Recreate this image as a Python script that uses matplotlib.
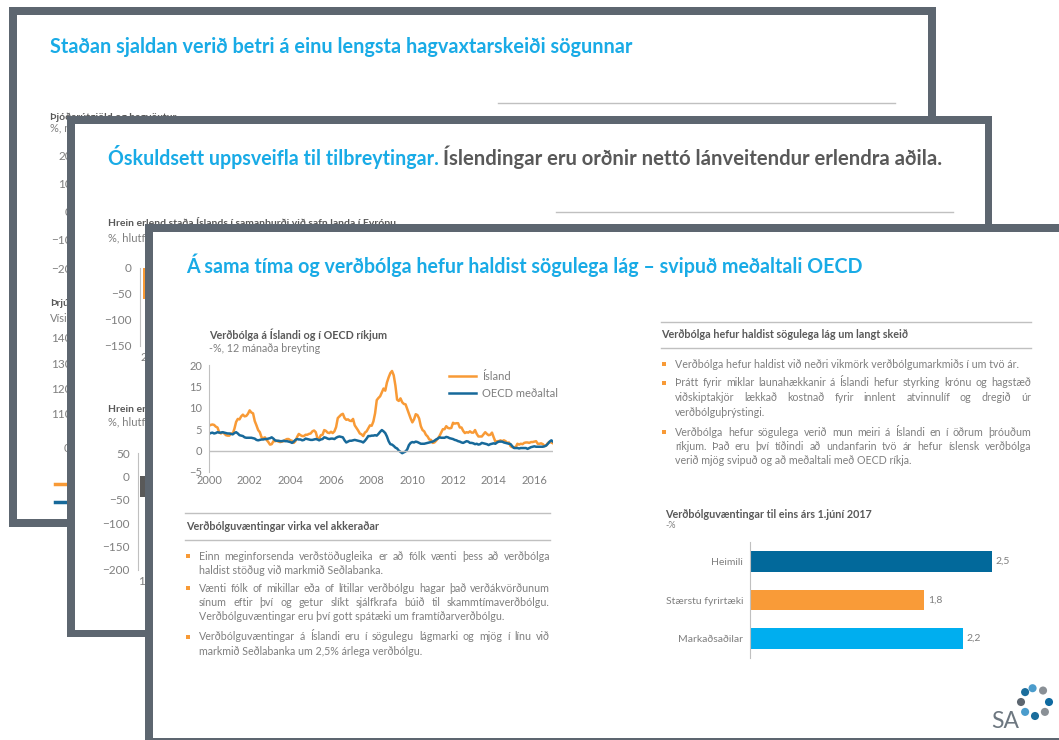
import matplotlib
matplotlib.use("Agg")
import matplotlib.pyplot as plt
from matplotlib.patches import Rectangle
import numpy as np

# ---- data ----
# Icelandic CPI, 12 month change, monthly Jan 2000 - Dec 2016
island = [5.8, 6.0, 6.1, 6.0, 5.6, 5.4, 4.3, 4.0, 4.3, 4.0, 3.6, 3.5,
          3.5, 4.0, 3.9, 5.1, 6.7, 7.4, 7.3, 8.0, 8.4, 8.0, 8.1, 8.6,
          9.4, 8.9, 8.7, 6.9, 5.9, 4.8, 4.3, 3.1, 2.9, 3.1, 2.5, 2.0,
          1.4, 1.5, 2.2, 2.2, 2.3, 2.1, 2.0, 2.1, 2.2, 2.5, 2.7, 2.7,
          2.4, 2.3, 1.8, 2.2, 3.2, 3.9, 3.6, 3.4, 3.4, 3.7, 3.7, 3.9,
          4.0, 4.5, 4.7, 4.3, 2.9, 2.8, 3.6, 3.7, 4.8, 4.6, 4.2, 4.1,
          4.4, 4.1, 4.5, 5.5, 7.6, 8.0, 8.4, 8.6, 7.6, 7.2, 7.3, 7.0,
          6.9, 7.4, 5.9, 5.3, 4.7, 4.0, 3.8, 3.4, 4.2, 4.5, 5.2, 5.9,
          5.8, 6.8, 8.7, 11.8, 12.3, 12.7, 13.6, 14.5, 14.0, 15.9, 17.1, 18.1,
          18.6, 17.6, 15.2, 11.9, 11.6, 12.2, 11.3, 10.9, 10.8, 9.7, 8.6, 7.5,
          6.6, 7.3, 8.5, 8.3, 7.5, 5.7, 4.8, 4.5, 3.7, 3.3, 2.6, 2.5,
          1.8, 1.9, 2.3, 2.8, 3.4, 4.2, 5.0, 5.0, 5.7, 5.3, 5.2, 5.3,
          6.5, 6.3, 6.4, 6.4, 5.4, 5.4, 4.6, 4.1, 4.3, 4.2, 4.5, 4.2,
          4.2, 4.8, 3.9, 3.3, 3.3, 3.3, 3.8, 4.3, 3.9, 3.6, 3.7, 4.2,
          3.1, 2.1, 2.2, 2.2, 2.4, 2.2, 2.4, 2.2, 1.8, 1.9, 1.0, 0.8,
          0.8, 0.8, 1.6, 1.4, 1.6, 1.5, 1.8, 1.9, 1.9, 1.8, 2.0, 2.0,
          2.1, 2.2, 1.6, 1.6, 1.7, 1.5, 1.1, 1.2, 1.8, 2.0, 1.9, 1.7]
oecd = [3.9, 4.1, 4.2, 4.0, 4.1, 4.3, 4.2, 4.2, 4.3, 4.2, 4.1, 4.0,
        4.0, 3.9, 3.8, 4.1, 4.3, 4.0, 3.6, 3.5, 3.4, 3.1, 3.0, 3.0,
        3.0, 3.0, 2.9, 2.8, 2.5, 2.4, 2.5, 2.6, 2.6, 2.7, 2.7, 2.8,
        2.9, 3.1, 2.8, 2.4, 2.3, 2.3, 2.2, 2.2, 2.3, 2.2, 2.2, 2.1,
        2.0, 1.8, 2.1, 2.5, 2.7, 2.6, 2.6, 2.4, 2.5, 2.8, 2.7, 2.6,
        2.5, 2.5, 2.6, 2.7, 2.6, 2.4, 2.6, 2.7, 3.1, 3.0, 2.8, 2.7,
        2.8, 2.8, 2.7, 3.0, 3.2, 3.3, 3.2, 3.1, 2.4, 1.9, 2.1, 2.3,
        2.3, 2.4, 2.5, 2.4, 2.3, 2.2, 2.1, 1.9, 2.3, 2.8, 3.4, 3.4,
        3.5, 3.5, 3.6, 3.5, 3.9, 4.4, 4.8, 4.5, 4.1, 3.3, 2.2, 1.5,
        1.4, 1.1, 0.7, 0.5, 0.0, -0.3, -0.6, -0.4, -0.2, 0.3, 1.3, 1.8,
        2.0, 1.9, 2.1, 2.0, 1.8, 1.6, 1.6, 1.6, 1.7, 1.8, 1.9, 2.0,
        2.1, 2.3, 2.6, 2.8, 3.1, 3.0, 3.0, 3.0, 3.2, 3.1, 2.9, 2.8,
        2.7, 2.5, 2.4, 2.2, 2.1, 1.9, 1.8, 2.0, 2.2, 2.1, 1.8, 1.8,
        1.7, 1.5, 1.6, 1.4, 1.5, 1.8, 1.7, 1.6, 1.5, 1.3, 1.5, 1.6,
        1.7, 1.6, 1.9, 2.1, 2.1, 2.1, 1.9, 1.8, 1.7, 1.6, 1.5, 1.0,
        0.6, 0.6, 0.6, 0.5, 0.6, 0.6, 0.6, 0.6, 0.4, 0.6, 0.8, 0.9,
        1.0, 0.9, 0.9, 0.9, 0.9, 0.9, 1.0, 1.2, 1.6, 2.1, 2.4, 2.1]
year_ticks = [2000, 2002, 2004, 2006, 2008, 2010, 2012, 2014, 2016]
line_names = ["Ísland", "OECD meðaltal"]

exp_cats = ["Heimili", "Stærstu fyrirtæki", "Markaðsaðilar"]
exp_vals = [2.5, 1.8, 2.2]

# visible pieces of the two slides behind
nfa_years = ["2016"]
nfa_vals = [-60]
nfa2_years = ["1990"]
nfa2_vals = [-45]

left_bullets = [
    ["Einn meginforsenda verðstöðugleika er að fólk vænti þess að verðbólga",
     "haldist stöðug við markmið Seðlabanka."],
    ["Vænti fólk of mikillar eða of lítillar verðbólgu hagar það verðákvörðunum",
     "sínum eftir því og getur slíkt sjálfkrafa búið til skammtímaverðbólgu.",
     "Verðbólguvæntingar eru því gott spátæki um framtíðarverðbólgu."],
    ["Verðbólguvæntingar á Íslandi eru í sögulegu lágmarki og mjög í línu við",
     "markmið Seðlabanka um 2,5% árlega verðbólgu."],
]
right_bullets = [
    ["Verðbólga hefur haldist við neðri vikmörk verðbólgumarkmiðs í um tvö ár."],
    ["Þrátt fyrir miklar launahækkanir á Íslandi hefur styrking krónu og hagstæð",
     "viðskiptakjör lækkað kostnað fyrir innlent atvinnulíf og dregið úr",
     "verðbólguþrýstingi."],
    ["Verðbólga hefur sögulega verið mun meiri á Íslandi en í öðrum þróuðum",
     "ríkjum. Það eru því tíðindi að undanfarin tvö ár hefur íslensk verðbólga",
     "verið mjög svipuð og að meðaltali með OECD ríkja."],
]

# ---- style ----
FRAME = "#5d6670"
CYAN = "#19abe6"
ORANGE = "#f89a36"
BLUE = "#17699a"
GREY = "#595959"
TXT = "#7f7f7f"
RULE = "#c0c0c0"
bar_colors = ["#02699b", "#f99b38", "#00aeef"]

W, H = 1059, 740
plt.rcParams['font.family'] = ['Lato', 'DejaVu Sans']

fig = plt.figure(figsize=(W / 100, H / 100), dpi=100)
R = fig.canvas.get_renderer()


def layer(z):
    ax = fig.add_axes([0, 0, 1, 1])
    ax.set_xlim(0, W)
    ax.set_ylim(H, 0)
    ax.axis('off')
    ax.set_zorder(z)
    return ax


def px_axes(x0, y0, x1, y1, z):
    ax = fig.add_axes([x0 / W, 1 - y1 / H, (x1 - x0) / W, (y1 - y0) / H])
    ax.set_zorder(z)
    ax.patch.set_visible(False)
    return ax


def slide(ax, x0, y0, x1, y1, b=7.5):
    ax.add_patch(Rectangle((x0, y0), x1 - x0, y1 - y0, fc=FRAME, ec='none'))
    ax.add_patch(Rectangle((x0 + b, y0 + b), x1 - x0 - 2 * b, y1 - y0 - 2 * b,
                           fc='white', ec='none'))


def fit(t, width):
    w = t.get_window_extent(R).width
    t.set_fontsize(t.get_fontsize() * width / w)
    return t.get_fontsize()


def rule(ax, x0, x1, y):
    ax.plot([x0, x1], [y, y], color=RULE, lw=1)


def para(ax, lines, x0, x1, y0, dy, size):
    for i, line in enumerate(lines):
        y = y0 + i * dy
        if i == len(lines) - 1:
            ax.text(x0, y, line, fontsize=size, color=TXT, va='center')
            continue
        words = line.split()
        ts = [ax.text(x0, y, w, fontsize=size, color=TXT, va='center') for w in words]
        ws = [t.get_window_extent(R).width for t in ts]
        gap = (x1 - x0 - sum(ws)) / (len(words) - 1)
        x = x0
        for t, w in zip(ts, ws):
            t.set_x(x)
            x += w + gap


def tick_style(ax, size, spine=True):
    for s in ax.spines.values():
        s.set_visible(False)
    if spine:
        ax.spines['left'].set_visible(True)
        ax.spines['left'].set_color(RULE)
    ax.tick_params(length=0, labelsize=size, labelcolor=TXT)


# ================= slide 1 (back) =================
a1 = layer(1)
slide(a1, 9, 7, 936, 527, b=8)
t = a1.text(50, 47, "Staðan sjaldan verið betri á einu lengsta hagvaxtarskeiði sögunnar",
            color=CYAN, fontweight='bold', fontsize=13, va='center')
fit(t, 581)
rule(a1, 498, 895, 103)
hsize = 7.5
a1.text(50, 117, "Þjóðarútgjöld og hagvöxtur", color=GREY, fontweight='bold',
        fontsize=hsize, va='center')
a1.text(50, 129, "%, magnbreyting", color=TXT, fontsize=8, va='center')
a1.text(50, 304, "Þrjú", color=GREY, fontweight='bold', fontsize=hsize, va='center')
a1.text(50, 319, "Vísitala", color=TXT, fontsize=8, va='center')
a1.text(71, 449, "0", color=TXT, fontsize=8.5, va='center', ha='right')
a1.plot([55, 90], [484, 484], color=ORANGE, lw=2.5)
a1.plot([55, 90], [502, 502], color=BLUE, lw=2.5)

c1 = px_axes(76, 155, 400, 268, 1.5)
c1.set_ylim(-20, 20)
c1.set_yticks([-20, -10, 0, 10, 20])
c1.set_xticks([])
tick_style(c1, 8.5, spine=False)
c1.tick_params(axis='y', pad=3)

c2 = px_axes(76, 338, 400, 414, 1.5)
c2.set_ylim(110, 140)
c2.set_yticks([110, 120, 130, 140])
c2.set_xticks([])
tick_style(c2, 8.5, spine=False)
c2.tick_params(axis='y', pad=3)

# ================= slide 2 (middle) =================
a2 = layer(2)
slide(a2, 67, 116, 992, 637)
t1 = a2.text(108, 157, "Óskuldsett uppsveifla til tilbreytingar.", color=CYAN,
             fontweight='bold', fontsize=13, va='center')
fit(t1, 329)
t2 = a2.text(108 + 329 + 6, 157, "Íslendingar eru orðnir nettó lánveitendur erlendra aðila.",
             color=GREY, fontweight='bold', fontsize=13, va='center')
fit(t2, 497)
rule(a2, 556, 953, 212)
a2.text(108, 223, "Hrein erlend staða Íslands í samanburði við safn landa í Evrópu",
        color=GREY, fontweight='bold', fontsize=hsize, va='center')
a2.text(108, 238, "%, hlutfall af VLF", color=TXT, fontsize=8, va='center')
a2.text(108, 410, "Hrein erlend", color=GREY, fontweight='bold',
        fontsize=hsize, va='center')
a2.text(108, 422, "%, hlutfall", color=TXT, fontsize=8, va='center')

c3 = px_axes(140, 268, 420, 346, 2.5)
c3.bar(range(len(nfa_vals)), nfa_vals, width=0.79, color=ORANGE)
c3.set_xlim(-0.5, 9.5)
c3.set_ylim(-150, 0)
c3.set_yticks([0, -50, -100, -150])
c3.set_xticks(range(len(nfa_years)), nfa_years)
tick_style(c3, 8.5)
c3.tick_params(axis='y', pad=6)
c3.tick_params(axis='x', pad=4)

c4 = px_axes(138, 453, 420, 570, 2.5)
c4.bar(range(len(nfa2_vals)), nfa2_vals, width=0.86, color=GREY)
c4.set_xlim(-0.5, 9.5)
c4.set_ylim(-200, 50)
c4.set_yticks([50, 0, -50, -100, -150, -200])
c4.set_xticks(range(len(nfa2_years)), nfa2_years)
tick_style(c4, 8.5)
c4.tick_params(axis='y', pad=6)
c4.tick_params(axis='x', pad=4)

# ================= slide 3 (front) =================
a3 = layer(3)
slide(a3, 145, 224, 1070, 745)
t = a3.text(186, 265, "Á sama tíma og verðbólga hefur haldist sögulega lág – svipuð meðaltali OECD",
            color=CYAN, fontweight='bold', fontsize=13, va='center')
fit(t, 676)

# right column header, sets the header font size
rule(a3, 661, 1031, 322)
t = a3.text(661, 335, "Verðbólga hefur haldist sögulega lág um langt skeið", color=GREY,
            fontweight='bold', fontsize=8, va='center')
hsize = fit(t, 246)
rule(a3, 661, 1031, 348)

# body font size from the single-line bullet
probe = a3.text(0, -50, right_bullets[0][0], fontsize=8)
bsize = fit(probe, 344)
probe.remove()

ys = [364, 383, 432]
for lines, y in zip(right_bullets, ys):
    a3.plot(664, y, 's', ms=2.3, color=ORANGE, mew=0)
    para(a3, lines, 675, 1031, y, 14.5, bsize)

# chart title, line chart
a3.text(209, 335, "Verðbólga á Íslandi og í OECD ríkjum", color=GREY,
        fontweight='bold', fontsize=hsize, va='center')
a3.text(209, 349, "-%, 12 mánaða breyting", color=TXT, fontsize=bsize, va='center')

# left column text
rule(a3, 185, 550, 513)
a3.text(186, 526, "Verðbólguvæntingar virka vel akkeraðar", color=GREY,
        fontweight='bold', fontsize=hsize, va='center')
rule(a3, 185, 550, 540)
ys = [556, 588, 637]
for lines, y in zip(left_bullets, ys):
    a3.plot(188, y, 's', ms=2.3, color=ORANGE, mew=0)
    para(a3, lines, 199, 550, y, 14.5, bsize)

# bar chart title
a3.text(665, 515, "Verðbólguvæntingar til eins árs 1.júní 2017", color=GREY,
        fontweight='bold', fontsize=hsize, va='center')
a3.text(665, 526, "-%", color=TXT, fontsize=6.5, va='center')

# logo
dot_angles = [135, 100, 55, 0, -45, -90, -135, 180]
dot_colors = ["#1b6d9c", "#4b9ccc", "#8a9096", "#0f6aa0", "#8a9096",
              "#1b6d9c", "#4b9ccc", "#5d6670"]
ang = np.radians(dot_angles)
a3.scatter(1035 + 14 * np.cos(ang), 702 - 14 * np.sin(ang), s=34,
           c=dot_colors, linewidths=0)
a3.text(991, 721, "SA", color="#6d7780", fontsize=16.5, va='center')

# ---- line chart ----
ax = px_axes(209, 365, 553, 472, 4)
years = 2000 + np.arange(len(island)) / 12
ax.plot(years, island, color=ORANGE, lw=1.8, label=line_names[0])
ax.plot(years, oecd, color=BLUE, lw=1.8, label=line_names[1])
ax.axhline(0, color=RULE, lw=1)
ax.set_xlim(years[0], years[-1])
ax.set_ylim(-5, 20)
ax.set_yticks([-5, 0, 5, 10, 15, 20])
ax.set_xticks(year_ticks, [str(y) for y in year_ticks])
tick_style(ax, 8)
ax.tick_params(axis='y', pad=5)
ax.tick_params(axis='x', pad=2)
ax.legend(loc='upper left', bbox_to_anchor=(449 / W, 1 - 371 / H),
          bbox_transform=fig.transFigure, frameon=False, fontsize=8,
          labelcolor=TXT, handlelength=2.4, handletextpad=0.6,
          labelspacing=0.55, borderpad=0, borderaxespad=0)

# ---- bar chart ----
bx = px_axes(750, 542, 1040, 658, 4)
bars = bx.barh(range(len(exp_vals)), exp_vals, height=0.54, color=bar_colors)
bx.set_xlim(0, 3)
bx.set_ylim(len(exp_vals) - 0.5, -0.5)
bx.set_yticks(range(len(exp_cats)), exp_cats)
bx.set_xticks([])
tick_style(bx, 7.5)
bx.tick_params(axis='y', pad=5)
bx.bar_label(bars, labels=[f"{v:.1f}".replace('.', ',') for v in exp_vals],
             padding=3, fontsize=7.5, color=TXT)

fig.savefig("out.png", dpi=100)
